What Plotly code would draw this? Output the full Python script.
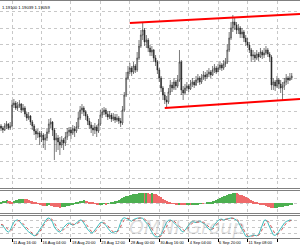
import plotly.graph_objects as go

bars = list(range(159))

open_ = [1.1756,1.1750,1.1744,1.1756,1.1762,1.1750,1.1756,1.1819,1.1825,1.1810,
1.1816,1.1822,1.1804,1.1810,1.1792,1.1780,1.1786,1.1768,1.1756,1.1741,
1.1732,1.1735,1.1723,1.1729,1.1714,1.1720,1.1738,1.1762,1.1768,1.1744,
1.1714,1.1720,1.1708,1.1699,1.1714,1.1705,1.1723,1.1738,1.1744,1.1735,
1.1747,1.1741,1.1753,1.1780,1.1804,1.1810,1.1798,1.1786,1.1771,1.1759,
1.1750,1.1744,1.1753,1.1741,1.1762,1.1789,1.1798,1.1804,1.1792,1.1783,
1.1789,1.1777,1.1783,1.1774,1.1780,1.1771,1.1765,1.1804,1.1849,1.1900,
1.1918,1.1930,1.1918,1.1936,1.1924,1.1960,1.1996,1.2029,1.2044,1.2008,
1.2014,1.1990,1.1978,1.1984,1.1960,1.1948,1.1924,1.1900,1.1870,1.1849,
1.1834,1.1828,1.1858,1.1879,1.1870,1.1888,1.1876,1.1894,1.1948,1.1864,
1.1855,1.1870,1.1876,1.1867,1.1882,1.1888,1.1879,1.1894,1.1900,1.1888,
1.1900,1.1909,1.1903,1.1912,1.1918,1.1909,1.1924,1.1930,1.1918,1.1930,
1.1939,1.1930,1.1942,1.1948,1.1984,1.2020,1.2050,1.2068,1.2059,1.2044,
1.2050,1.2032,1.2038,1.2020,1.2008,1.1999,1.1984,1.1966,1.1969,1.1960,
1.1972,1.1963,1.1978,1.1969,1.1975,1.1984,1.1972,1.1963,1.1879,1.1888,
1.1876,1.1894,1.1882,1.1870,1.1876,1.1888,1.1900,1.1894,1.1900]

high = [1.1762,1.1756,1.1765,1.1771,1.1765,1.1768,1.1834,1.1837,1.1831,1.1828,
1.1834,1.1825,1.1822,1.1816,1.1798,1.1798,1.1789,1.1774,1.1762,1.1747,
1.1747,1.1741,1.1741,1.1735,1.1732,1.1750,1.1777,1.1780,1.1771,1.1750,
1.1735,1.1729,1.1723,1.1726,1.1720,1.1738,1.1750,1.1753,1.1753,1.1759,
1.1756,1.1768,1.1798,1.1816,1.1822,1.1816,1.1804,1.1792,1.1780,1.1768,
1.1759,1.1765,1.1759,1.1777,1.1804,1.1810,1.1813,1.1810,1.1801,1.1801,
1.1795,1.1795,1.1792,1.1792,1.1786,1.1780,1.1816,1.1858,1.1918,1.1936,
1.1945,1.1936,1.1948,1.1942,1.1978,1.2014,1.2044,1.2065,1.2050,1.2029,
1.2020,1.1999,1.1996,1.1987,1.1969,1.1954,1.1930,1.1906,1.1876,1.1858,
1.1846,1.1870,1.1894,1.1888,1.1900,1.1894,1.1909,1.1984,1.1954,1.1876,
1.1882,1.1888,1.1882,1.1894,1.1900,1.1894,1.1906,1.1912,1.1906,1.1912,
1.1921,1.1918,1.1924,1.1930,1.1924,1.1936,1.1942,1.1936,1.1942,1.1951,
1.1945,1.1954,1.1960,1.2002,1.2038,1.2068,1.2089,1.2080,1.2068,1.2062,
1.2056,1.2050,1.2044,1.2029,1.2020,1.2008,1.1990,1.1984,1.1978,1.1984,
1.1978,1.1990,1.1984,1.1990,1.1996,1.1990,1.1978,1.1969,1.1900,1.1894,
1.1906,1.1900,1.1894,1.1888,1.1900,1.1912,1.1906,1.1915,1.1915]

low = [1.1741,1.1735,1.1741,1.1747,1.1744,1.1744,1.1753,1.1810,1.1804,1.1801,
1.1810,1.1795,1.1798,1.1783,1.1771,1.1774,1.1759,1.1744,1.1729,1.1714,
1.1720,1.1699,1.1708,1.1690,1.1684,1.1711,1.1732,1.1750,1.1726,1.1654,
1.1678,1.1684,1.1669,1.1690,1.1684,1.1696,1.1714,1.1726,1.1717,1.1729,
1.1723,1.1735,1.1747,1.1774,1.1792,1.1786,1.1774,1.1759,1.1747,1.1735,
1.1726,1.1732,1.1723,1.1735,1.1756,1.1780,1.1789,1.1783,1.1774,1.1777,
1.1768,1.1771,1.1765,1.1768,1.1762,1.1753,1.1759,1.1798,1.1843,1.1894,
1.1912,1.1906,1.1912,1.1915,1.1918,1.1954,1.1990,1.2014,1.1996,1.1990,
1.1978,1.1966,1.1966,1.1948,1.1936,1.1912,1.1888,1.1858,1.1834,1.1822,
1.1813,1.1822,1.1849,1.1858,1.1864,1.1864,1.1870,1.1888,1.1849,1.1834,
1.1849,1.1861,1.1858,1.1864,1.1873,1.1870,1.1876,1.1885,1.1879,1.1882,
1.1894,1.1891,1.1897,1.1903,1.1900,1.1906,1.1915,1.1912,1.1918,1.1924,
1.1921,1.1924,1.1933,1.1942,1.1978,1.2014,1.2038,1.2044,1.2032,1.2032,
1.2020,1.2020,1.2008,1.1996,1.1990,1.1975,1.1948,1.1954,1.1948,1.1954,
1.1951,1.1960,1.1957,1.1960,1.1969,1.1963,1.1948,1.1864,1.1864,1.1861,
1.1870,1.1867,1.1855,1.1831,1.1864,1.1879,1.1882,1.1891,1.1894]

close = [1.1750,1.1744,1.1756,1.1762,1.1750,1.1756,1.1819,1.1825,1.1810,1.1816,
1.1822,1.1804,1.1810,1.1792,1.1780,1.1786,1.1768,1.1756,1.1741,1.1732,
1.1735,1.1723,1.1729,1.1714,1.1720,1.1738,1.1762,1.1768,1.1744,1.1714,
1.1720,1.1708,1.1699,1.1714,1.1705,1.1723,1.1738,1.1744,1.1735,1.1747,
1.1741,1.1753,1.1780,1.1804,1.1810,1.1798,1.1786,1.1771,1.1759,1.1750,
1.1744,1.1753,1.1741,1.1762,1.1789,1.1798,1.1804,1.1792,1.1783,1.1789,
1.1777,1.1783,1.1774,1.1780,1.1771,1.1765,1.1804,1.1849,1.1900,1.1918,
1.1930,1.1918,1.1936,1.1924,1.1960,1.1996,1.2029,1.2044,1.2008,1.2014,
1.1990,1.1978,1.1984,1.1960,1.1948,1.1924,1.1900,1.1870,1.1849,1.1834,
1.1828,1.1858,1.1879,1.1870,1.1888,1.1876,1.1894,1.1948,1.1864,1.1855,
1.1870,1.1876,1.1867,1.1882,1.1888,1.1879,1.1894,1.1900,1.1888,1.1900,
1.1909,1.1903,1.1912,1.1918,1.1909,1.1924,1.1930,1.1918,1.1930,1.1939,
1.1930,1.1942,1.1948,1.1984,1.2020,1.2050,1.2068,1.2059,1.2044,1.2050,
1.2032,1.2038,1.2020,1.2008,1.1999,1.1984,1.1966,1.1969,1.1960,1.1972,
1.1963,1.1978,1.1969,1.1975,1.1984,1.1972,1.1963,1.1879,1.1888,1.1876,
1.1894,1.1882,1.1870,1.1876,1.1888,1.1900,1.1894,1.1900,1.1906]

# channel lines (bar index, price)
upper_x = [70, 162.5]
upper_y = [1.2065, 1.2092]
lower_x = [89, 162.5]
lower_y = [1.1810, 1.1837]

# oscillator histogram (pips)
osma = [5,7,8,9,8,6,5,7,9,11,
12,13,14,13,12,10,8,6,3,1,
-2,-4,-6,-8,-9,-8,-7,-8,-9,-11,
-12,-13,-14,-13,-12,-11,-10,-9,-7,-5,
-2,1,4,7,8,9,8,7,5,3,
1,-1,-3,-4,-4,-3,-2,-3,-2,0,
2,4,6,8,10,12,15,18,21,23,
25,26,27,28,29,30,30,31,30,31,
30,29,30,29,27,25,22,18,14,10,
6,3,1,-1,-2,-3,-4,-3,-4,-5,
-6,-5,-5,-6,-5,-4,-4,-3,-2,-1,
-2,0,1,2,4,6,8,10,13,16,
18,21,23,25,27,29,30,31,30,28,
26,24,21,18,15,12,9,6,3,1,
-1,-3,-5,-7,-9,-11,-12,-14,-15,-15,
-14,-13,-12,-11,-10,-9,-8,-7,-6]

stoch_k = [60,55,45,32,27,35,55,72,80,82,
76,65,55,45,36,28,23,15,10,12,
25,42,55,68,80,88,91,85,72,50,
38,30,27,35,48,58,65,68,62,58,
62,70,78,82,80,70,55,40,30,23,
25,35,48,60,70,72,66,58,45,32,
25,23,30,28,45,70,88,92,90,86,
80,76,84,88,90,91,92,90,78,70,
60,42,25,12,6,5,8,15,35,55,
72,80,82,78,70,62,55,45,32,27,
35,48,60,70,75,72,70,74,76,72,
68,62,50,40,36,45,60,72,80,85,
86,82,84,88,90,91,90,86,82,72,
55,35,18,8,5,6,10,14,12,10,
15,40,65,80,82,70,50,28,14,12,
18,30,45,58,68,75,80,82,80]

stoch_d = [62,60,53,44,35,31,39,54,69,78,
79,74,65,55,45,36,29,22,16,12,
16,26,41,55,68,79,86,88,83,69,
53,39,32,31,37,47,57,64,65,63,
61,63,70,77,80,77,68,55,42,31,
26,28,36,48,59,67,69,65,56,45,
34,27,26,27,34,48,68,83,90,89,
85,81,80,83,87,90,91,91,87,79,
69,57,42,26,14,8,6,9,19,35,
54,69,78,80,77,70,62,54,44,35,
31,37,48,59,68,72,72,72,73,74,
72,67,60,51,42,40,47,59,71,79,
84,84,84,85,87,90,90,89,86,80,
70,54,36,20,10,6,7,10,12,12,
12,22,40,62,76,77,67,49,31,18,
15,20,31,44,57,67,74,79,81]

tick_bars = [6, 22, 38, 54, 70, 86, 102, 118, 134, 150]
tick_labels = ["11 Aug 16:00", "16 Aug 04:00", "18 Aug 20:00", "23 Aug 12:00",
               "28 Aug 00:00", "30 Aug 16:00", "4 Sep 04:00", "6 Sep 20:00",
               "11 Sep 08:00", "14 Sep 00:00"]
header_text = "1.19100 1.19039 1.19059"
watermark_text = "OMNI Group"

GREEN = "#4caf50"
RED = "#ee6a6a"
hist_colors = [GREEN if i == 0 or osma[i] >= osma[i - 1] else RED for i in range(len(osma))]

fig = go.Figure()
fig.add_trace(go.Candlestick(
    x=bars, open=open_, high=high, low=low, close=close,
    increasing=dict(line=dict(color="#222222", width=0.6), fillcolor="#ffffff"),
    decreasing=dict(line=dict(color="#222222", width=0.6), fillcolor="#222222"),
    whiskerwidth=0, xaxis="x", yaxis="y", showlegend=False, hoverinfo="skip"))
fig.add_trace(go.Scatter(x=upper_x, y=upper_y, mode="lines",
    line=dict(color="#ff0000", width=2), xaxis="x", yaxis="y", showlegend=False))
fig.add_trace(go.Scatter(x=lower_x, y=lower_y, mode="lines",
    line=dict(color="#ff0000", width=2), xaxis="x", yaxis="y", showlegend=False))

fig.add_trace(go.Bar(x=bars, y=osma, marker=dict(color=hist_colors, line=dict(width=0)),
    width=0.55, xaxis="x2", yaxis="y2", showlegend=False))

fig.add_trace(go.Scatter(x=bars, y=stoch_k, mode="lines",
    line=dict(color="#3cbcbc", width=1), xaxis="x3", yaxis="y3", showlegend=False))
fig.add_trace(go.Scatter(x=bars, y=stoch_d, mode="lines",
    line=dict(color="#d05a5a", width=1, dash="dot"), xaxis="x3", yaxis="y3", showlegend=False))

xr = [-0.55, 162.5]
grid = dict(showgrid=True, gridcolor="#c8c8c8", griddash="dot", gridwidth=1)
frame = dict(showline=True, linecolor="#808080", linewidth=1, mirror=True)
common_x = dict(range=xr, tickvals=tick_bars, zeroline=False, fixedrange=True, **grid, **frame)

fig.update_layout(
    width=300, height=250,
    margin=dict(l=0, r=0, t=0, b=0),
    paper_bgcolor="#ffffff", plot_bgcolor="#ffffff",
    showlegend=False, bargap=0,
    xaxis=dict(domain=[0, 1], anchor="y", showticklabels=False, ticks="",
               rangeslider=dict(visible=False), **common_x),
    yaxis=dict(domain=[0.248, 0.996], range=[1.1570, 1.2131], dtick=0.005,
               showticklabels=False, zeroline=False, **grid, **frame),
    xaxis2=dict(domain=[0, 1], anchor="y2", showticklabels=False, ticks="", **common_x),
    yaxis2=dict(domain=[0.148, 0.236], range=[-30, 37], showticklabels=False,
                tickvals=[0], zeroline=False, **grid, **frame),
    xaxis3=dict(domain=[0, 1], anchor="y3", showticklabels=True, ticktext=tick_labels,
                ticks="outside", ticklen=3, tickcolor="#000000", tickangle=0,
                ticklabelposition="outside right",
                tickfont=dict(family="Liberation Sans, Arial", size=4.0, color="#000000"),
                **common_x),
    yaxis3=dict(domain=[0.048, 0.136], range=[0, 100], showticklabels=False,
                tickvals=[20, 50, 80], zeroline=False, **grid, **frame),
    font=dict(family="Liberation Sans, Arial", size=4.2, color="#000000"),
)

fig.add_annotation(x=0.0, y=0.99, xref="paper", yref="paper", text=header_text,
                   showarrow=False, xanchor="left", yanchor="top",
                   font=dict(family="Liberation Sans, Arial", size=4.2, color="#000000"))
fig.add_annotation(x=0.62, y=0.092, xref="paper", yref="paper", text="<i>" + watermark_text + "</i>",
                   showarrow=False, xanchor="center", yanchor="middle",
                   font=dict(family="DejaVu Sans", size=19, color="rgba(160,160,160,0.35)"))

fig.write_html("out.html", include_plotlyjs=True, config={"displayModeBar": False})
